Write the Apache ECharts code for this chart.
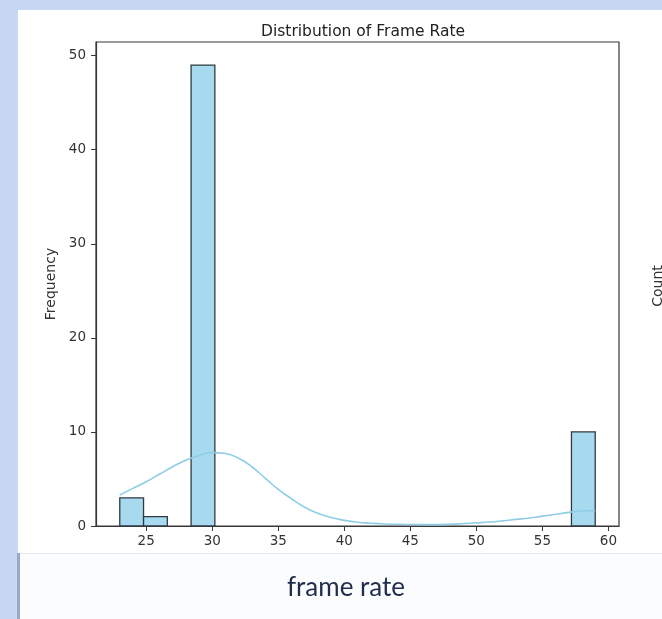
<!DOCTYPE html>
<html>
<head>
<meta charset="utf-8">
<title>Distribution of Frame Rate</title>
<script src="https://cdn.jsdelivr.net/npm/echarts@6/dist/echarts.min.js"></script>
<style>
  html, body { margin: 0; padding: 0; background: #c7d8f3; overflow: hidden; }
  #chart { width: 662px; height: 619px; }
</style>
</head>
<body>
<div id="chart"></div>
<script>
// histogram bins (frame rate) and counts
const binEdges = [23, 24.8, 26.6, 28.4, 30.2, 32, 33.8, 35.6, 37.4, 39.2, 41, 42.8, 44.6, 46.4, 48.2, 50, 51.8, 53.6, 55.4, 57.2, 59];
const counts = [3, 1, 0, 49, 0, 0, 0, 0, 0, 0, 0, 0, 0, 0, 0, 0, 0, 0, 0, 10];

// kde curve (scaled to counts)
const kdeX = [23, 24, 25, 26, 27, 28, 29, 30, 31, 32, 33, 34, 35, 36, 37, 38, 39, 40, 41, 42, 43, 44, 45, 46, 47, 48, 49, 50, 51, 52, 53, 54, 55, 56, 57, 58, 59];
const kdeY = [3.3, 4.0, 4.7, 5.5, 6.3, 7.0, 7.5, 7.8, 7.7, 7.2, 6.3, 5.1, 3.9, 2.9, 2.0, 1.35, 0.9, 0.6, 0.4, 0.3, 0.22, 0.18, 0.16, 0.15, 0.15, 0.18, 0.25, 0.33, 0.42, 0.55, 0.7, 0.85, 1.05, 1.25, 1.45, 1.6, 1.65];

const xTicks = [25, 30, 35, 40, 45, 50, 55, 60];
const yTicks = [0, 10, 20, 30, 40, 50];

const chart = echarts.init(document.getElementById('chart'));

const binData = counts.map((c, i) => [binEdges[i], binEdges[i + 1], c]);
const axisText = { color: '#333', fontSize: 13.5, fontFamily: 'DejaVu Sans' };

chart.setOption({
  animation: false,
  backgroundColor: 'transparent',
  title: {
    text: 'Distribution of Frame Rate',
    left: 358, top: 19, textAlign: 'center',
    textStyle: { fontFamily: 'DejaVu Sans', fontSize: 15.5, fontWeight: 'normal', color: '#222' }
  },
  graphic: [
    // screenshot panels
    { type: 'rect', z: -10, shape: { x: 18, y: 10, width: 644, height: 543 }, style: { fill: '#ffffff' } },
    { type: 'rect', z: -10, shape: { x: 17, y: 553, width: 3, height: 66 }, style: { fill: '#9aa9c4' } },
    { type: 'rect', z: -10, shape: { x: 20, y: 553, width: 642, height: 66 }, style: { fill: '#fbfcfe' } },
    { type: 'rect', z: -9, shape: { x: 20, y: 553, width: 642, height: 1 }, style: { fill: '#e6e8ec' } },
    {
      type: 'text', x: 346, y: 588, z: 5,
      style: { text: 'frame rate', fill: '#1f2c4c', font: '26px Lato', textAlign: 'center', textVerticalAlign: 'middle' }
    },
    {
      type: 'text', x: 658, y: 286, rotation: Math.PI / 2, z: 5,
      style: { text: 'Count', fill: '#333', font: '14px "DejaVu Sans"', textAlign: 'center', textVerticalAlign: 'middle' }
    }
  ],
  grid: {
    left: 96, top: 42, right: 43, bottom: 93,
    show: true, borderColor: '#383838', borderWidth: 1.2, backgroundColor: '#fff'
  },
  xAxis: {
    type: 'value', min: 21.2, max: 60.8,
    axisLine: { show: true, onZero: false, lineStyle: { color: '#383838', width: 1.2 } },
    axisTick: { show: true, customValues: xTicks, length: 5, lineStyle: { color: '#383838' } },
    axisLabel: Object.assign({ customValues: xTicks, margin: 8 }, axisText),
    splitLine: { show: false }
  },
  yAxis: {
    type: 'value', min: 0, max: 51.45,
    name: 'Frequency', nameLocation: 'middle', nameGap: 36, nameRotate: 90,
    nameTextStyle: { color: '#333', fontSize: 14, fontFamily: 'DejaVu Sans' },
    axisLine: { show: true, lineStyle: { color: '#383838', width: 1.2 } },
    axisTick: { show: true, customValues: yTicks, length: 5, lineStyle: { color: '#383838' } },
    axisLabel: Object.assign({ customValues: yTicks, margin: 10 }, axisText),
    splitLine: { show: false }
  },
  series: [
    {
      type: 'custom',
      data: binData,
      encode: { x: [0, 1], y: 2 },
      renderItem: function (params, api) {
        const c = api.value(2);
        if (!c) return null;
        const p0 = api.coord([api.value(0), c]);
        const p1 = api.coord([api.value(1), 0]);
        return {
          type: 'rect',
          shape: { x: p0[0], y: p0[1], width: p1[0] - p0[0], height: p1[1] - p0[1] },
          style: { fill: '#a8daef', stroke: '#2f3a40', lineWidth: 1.3 }
        };
      },
      z: 2
    },
    {
      type: 'line',
      data: kdeX.map((x, i) => [x, kdeY[i]]),
      smooth: true,
      showSymbol: false,
      lineStyle: { color: '#8fcde6', width: 1.6 },
      z: 3
    }
  ]
});
</script>
</body>
</html>
